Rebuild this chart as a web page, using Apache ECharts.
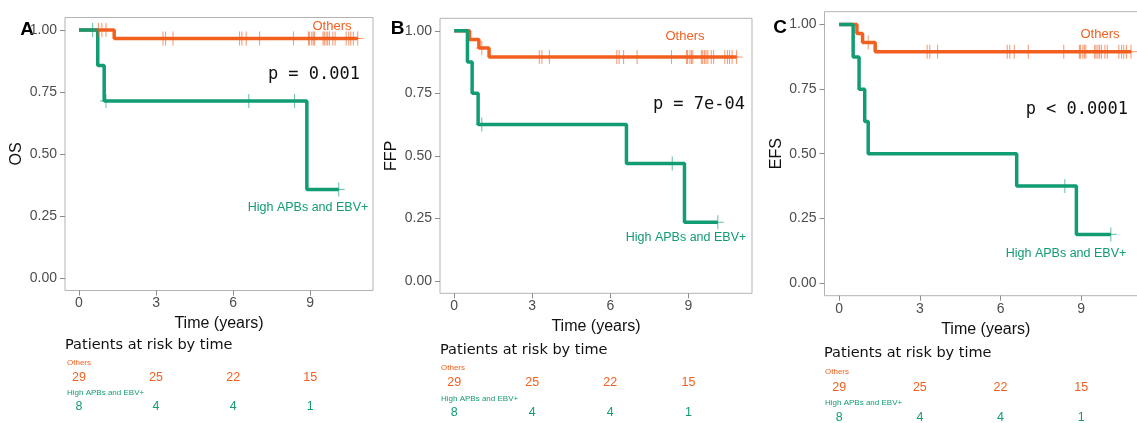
<!DOCTYPE html>
<html>
<head>
<meta charset="utf-8">
<script src="https://cdn.jsdelivr.net/npm/echarts@6/dist/echarts.min.js"></script>
<style>
html,body{margin:0;padding:0;background:#fff;}
#main{width:1137px;height:423px;}
</style>
</head>
<body>
<div id="main"></div>
<script>
// KM curves: [time, survival] at start, at each drop, and at last follow-up
var osOthers = [[0,1],[1.37,0.9655],[10.85,0.9655]];
var osHigh = [[0,1],[0.73,0.857],[0.98,0.714],[8.87,0.357],[10.11,0.357]];
var ffpOthers = [[0,1],[0.59,0.9655],[0.95,0.931],[1.34,0.895],[10.85,0.895]];
var ffpHigh = [[0,1],[0.51,0.875],[0.69,0.75],[0.92,0.625],[6.62,0.469],[8.85,0.234],[10.13,0.234]];
var efsOthers = [[0,1],[0.66,0.9655],[0.87,0.931],[1.34,0.895],[10.85,0.895]];
var efsHigh = [[0,1],[0.52,0.875],[0.74,0.75],[0.95,0.625],[1.08,0.5],[6.6,0.375],[8.82,0.1875],[10.1,0.1875]];

// censored times (years)
var othersCensorLate = [3.27,3.37,3.66,6.25,6.34,6.51,7.03,8.35,8.93,8.97,9.06,9.12,9.17,9.5,9.55,9.62,9.68,9.75,9.88,9.97,10.4,10.5,10.58,10.68,10.85];
var othersCensorA = [0.76,0.89,1.05];
var othersCensorB = [1.06];
var othersCensorC = [1.08];
var highCensorA = [0.53,1.05,6.61,8.39,10.11];
var highCensorB = [1.06,8.38,10.13];
var highCensorC = [8.39,10.1];

// patients at risk table
var riskTimes = [0,3,6,9];
var riskOthers = [29,25,22,15];
var riskHigh = [8,4,4,1];

var xTicks = [0,3,6,9];
var yTicks = [0,0.25,0.5,0.75,1];
var yNames = ['OS','FFP','EFS'];
var tags = ['A','B','C'];
var pTexts = ['p = 0.001','p = 7e-04','p < 0.0001'];

var ORANGE = '#F25F1F';
var GREEN = '#129C74';
var SANS = 'Liberation Sans, Arial, sans-serif';

// layout of the three panels (pixels)
var panels = [
  {grid:{left:65,top:17.5,width:308,height:273}, risk:{top:378,height:29}, xGap:24, tag:[27,30], others:[332,26], high:[308,208], p:[360,75], title:[65,345], small:[67,363,393]},
  {grid:{left:440,top:18.3,width:312,height:275}, risk:{top:383,height:30}, xGap:25, tag:[397.5,29], others:[685,36], high:[686,238], p:[745,105], title:[440,350], small:[441,368,399]},
  {grid:{left:824.5,top:11.7,width:322.5,height:284}, risk:{top:388,height:30}, xGap:26, tag:[780,28], others:[1100,34], high:[1066,254], p:[1128,110], title:[824,353], small:[825,372,403]}
];
var curves = [[osOthers,osHigh],[ffpOthers,ffpHigh],[efsOthers,efsHigh]];
var censors = [
  [othersCensorA.concat(othersCensorLate), highCensorA],
  [othersCensorB.concat(othersCensorLate), highCensorB],
  [othersCensorC.concat(othersCensorLate), highCensorC]
];

function survAt(curve, t){
  var s = curve[0][1];
  for (var i = 0; i < curve.length; i++) {
    if (curve[i][0] <= t) s = curve[i][1];
  }
  return s;
}

function plusMark(color){
  return function(params, api){
    var p = api.coord([api.value(0), api.value(1)]);
    var st = {stroke:color, lineWidth:1.1, opacity:0.6};
    return {type:'group', children:[
      {type:'line', shape:{x1:p[0]-6,y1:p[1],x2:p[0]+6,y2:p[1]}, style:st},
      {type:'line', shape:{x1:p[0],y1:p[1]-7,x2:p[0],y2:p[1]+7}, style:st}
    ]};
  };
}

function riskText(color){
  return function(params, api){
    var p = api.coord([api.value(0), api.value(1)]);
    return {type:'text', x:p[0], y:p[1], style:{text:String(api.value(2)), fill:color,
      fontSize:12.5, fontFamily:SANS, align:'center', verticalAlign:'middle'}};
  };
}

var grid = [], xAxis = [], yAxis = [], series = [], graphic = [];

panels.forEach(function(pn, i){
  grid.push({left:pn.grid.left, top:pn.grid.top, width:pn.grid.width, height:pn.grid.height,
    show:true, borderColor:'#b3b3b3', borderWidth:1, backgroundColor:'#fff', outerBoundsMode:'none'});
  xAxis.push({type:'value', gridIndex:i, min:-0.545, max:11.445,
    axisLine:{show:false, onZero:false}, splitLine:{show:false},
    axisTick:{show:true, inside:false, customValues:xTicks, length:5, lineStyle:{color:'#8c8c8c'}},
    axisLabel:{customValues:xTicks, color:'#4d4d4d', fontSize:14, fontFamily:SANS, margin:6},
    name:'Time (years)', nameLocation:'middle', nameGap:pn.xGap,
    nameTextStyle:{color:'#111', fontSize:16, fontFamily:SANS}});
  yAxis.push({type:'value', gridIndex:i, min:-0.05, max:1.05,
    axisLine:{show:false, onZero:false}, splitLine:{show:false},
    axisTick:{show:true, inside:false, customValues:yTicks, length:5, lineStyle:{color:'#8c8c8c'}},
    axisLabel:{customValues:yTicks, color:'#4d4d4d', fontSize:14, fontFamily:SANS, margin:8,
      formatter:function(v){ return v.toFixed(2); }},
    name:yNames[i], nameLocation:'middle', nameGap:40,
    nameTextStyle:{color:'#111', fontSize:16, fontFamily:SANS}});

  var colors = [ORANGE, GREEN];
  [0,1].forEach(function(k){
    series.push({type:'line', xAxisIndex:i, yAxisIndex:i, data:curves[i][k], step:'end',
      symbol:'none', lineStyle:{color:colors[k], width:3.5}, itemStyle:{color:colors[k]}, z:2});
    series.push({type:'custom', xAxisIndex:i, yAxisIndex:i, z:3,
      data:censors[i][k].map(function(t){ return [t, survAt(curves[i][k], t)]; }),
      renderItem:plusMark(colors[k])});
  });

  graphic.push(
    {type:'text', x:pn.tag[0], y:pn.tag[1], style:{text:tags[i], font:'bold 19px '+SANS, fill:'#000', align:'center', verticalAlign:'middle'}},
    {type:'text', x:pn.others[0], y:pn.others[1], style:{text:'Others', fontSize:13, fontFamily:SANS, fill:ORANGE, align:'center', verticalAlign:'middle'}},
    {type:'text', x:pn.high[0], y:pn.high[1], style:{text:'High APBs and EBV+', fontSize:12.5, fontFamily:SANS, fill:GREEN, align:'center', verticalAlign:'middle'}},
    {type:'text', x:pn.p[0], y:pn.p[1], style:{text:pTexts[i], fontSize:17, fontFamily:'DejaVu Sans Mono, monospace', fill:'#111', align:'right', verticalAlign:'middle'}},
    {type:'text', x:pn.title[0], y:pn.title[1], style:{text:'Patients at risk by time', fontSize:14.5, fontFamily:'DejaVu Sans, sans-serif', fill:'#111', align:'left', verticalAlign:'middle'}},
    {type:'text', x:pn.small[0], y:pn.small[1], style:{text:'Others', fontSize:8, fontFamily:SANS, fill:ORANGE, align:'left', verticalAlign:'middle'}},
    {type:'text', x:pn.small[0], y:pn.small[2], style:{text:'High APBs and EBV+', fontSize:8, fontFamily:SANS, fill:GREEN, align:'left', verticalAlign:'middle'}}
  );
});

// risk table grids share the x scale of their panel
panels.forEach(function(pn, i){
  var gi = grid.length;
  grid.push({left:pn.grid.left, top:pn.risk.top, width:pn.grid.width, height:pn.risk.height, show:false, outerBoundsMode:'none'});
  xAxis.push({type:'value', gridIndex:gi, min:-0.545, max:11.445, show:false});
  yAxis.push({type:'value', gridIndex:gi, min:0, max:1, show:false});
  series.push({type:'custom', xAxisIndex:gi, yAxisIndex:gi,
    data:riskTimes.map(function(t, j){ return [t, 1, riskOthers[j]]; }), renderItem:riskText(ORANGE)});
  series.push({type:'custom', xAxisIndex:gi, yAxisIndex:gi,
    data:riskTimes.map(function(t, j){ return [t, 0, riskHigh[j]]; }), renderItem:riskText(GREEN)});
});

var chart = echarts.init(document.getElementById('main'));
chart.setOption({
  animation:false,
  backgroundColor:'#fff',
  grid:grid, xAxis:xAxis, yAxis:yAxis, series:series, graphic:graphic
});
</script>
</body>
</html>
